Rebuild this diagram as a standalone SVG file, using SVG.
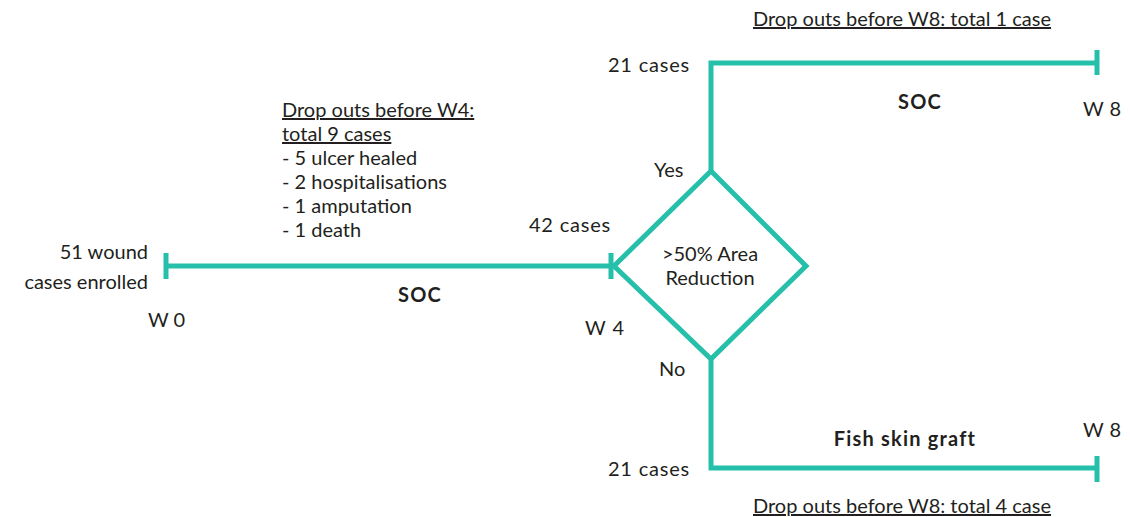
<svg xmlns="http://www.w3.org/2000/svg" width="1130" height="517" viewBox="0 0 1130 517">
<style>
.t{font-family:Lato,"Noto Sans","Liberation Sans",sans-serif;font-size:20px;fill:#231f20}
.b{font-weight:bold;letter-spacing:1.2px}
.u{text-decoration:underline}
.m{text-anchor:middle}
.e{text-anchor:end}
.ln{fill:none;stroke:#26bfaa;stroke-width:5}
</style>
<rect width="1130" height="517" fill="#fff"/>
<g id="connectors">
<path class="ln" d="M166,266 H611"/>
<path class="ln" d="M166,253 V279 M611,253 V279"/>
<path class="ln" d="M711,171 V63 H1097"/>
<path class="ln" d="M1097,50 V75"/>
<path class="ln" d="M711,359 V468 H1097"/>
<path class="ln" d="M1097,456 V482"/>
</g>
<g id="start">
<text class="t e" x="148" y="259">51 wound</text>
<text class="t e" x="148" y="289">cases enrolled</text>
<text class="t" x="148" y="327">W 0</text>
</g>
<g id="soc1"><text class="t b m" x="420" y="302">SOC</text></g>
<g id="dropouts-w4">
<text class="t u" x="282" y="117">Drop outs before W4:</text>
<text class="t u" x="282" y="141">total 9 cases</text>
<text class="t" x="282" y="165">- 5 ulcer healed</text>
<text class="t" x="282" y="189">- 2 hospitalisations</text>
<text class="t" x="282" y="213">- 1 amputation</text>
<text class="t" x="282" y="237">- 1 death</text>
</g>
<g id="w4">
<text class="t e" x="611" y="232" letter-spacing="0.8">42 cases</text>
<text class="t" x="585" y="335" letter-spacing="1">W 4</text>
</g>
<g id="decision">
<polygon class="ln" points="711,171 806,266 711,359 614,266"/>
<text class="t m" x="710" y="261">&gt;50% Area</text>
<text class="t m" x="710" y="285">Reduction</text>
<text class="t" x="654" y="177">Yes</text>
<text class="t" x="659" y="376">No</text>
</g>
<g id="yes-branch">
<text class="t e" x="690" y="72" letter-spacing="0.8">21 cases</text>
<text class="t b m" x="920" y="109">SOC</text>
<text class="t" x="1083" y="116" letter-spacing="0.5">W 8</text>
<text class="t u" x="753" y="26">Drop outs before W8: total 1 case</text>
</g>
<g id="no-branch">
<text class="t e" x="690" y="476" letter-spacing="0.8">21 cases</text>
<text class="t b m" x="905" y="446">Fish skin graft</text>
<text class="t" x="1083" y="437" letter-spacing="0.5">W 8</text>
<text class="t u" x="753" y="513">Drop outs before W8: total 4 case</text>
</g>
</svg>
